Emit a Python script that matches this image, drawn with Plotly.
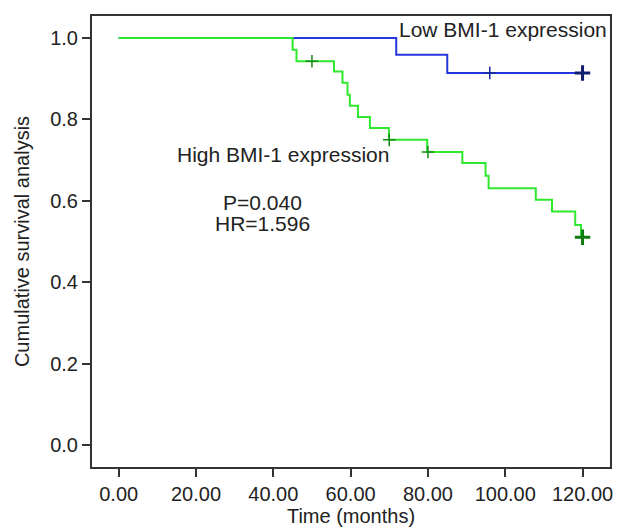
import plotly.graph_objects as go

# High BMI-1 expression group (green) step curve
high_t = [0, 45, 46, 55.7, 57.9, 59.2, 59.8, 61.9, 65.0, 69.9, 79.8, 88.9, 94.9, 95.7, 107.9, 112.1, 118.1, 119.6, 120]
high_s = [1.0, 0.971, 0.943, 0.918, 0.890, 0.861, 0.834, 0.806, 0.779, 0.750, 0.720, 0.693, 0.662, 0.631, 0.603, 0.574, 0.541, 0.511, 0.511]
high_cens_t = [50, 70, 80]
high_cens_s = [0.943, 0.750, 0.720]
high_end_t = [120]
high_end_s = [0.511]

# Low BMI-1 expression group (blue)
low_t = [0, 71.8, 85.0, 120]
low_s = [1.0, 0.959, 0.914, 0.914]
low_cens_t = [96]
low_cens_s = [0.914]
low_end_t = [120]
low_end_s = [0.914]

x_ticks = [0, 20, 40, 60, 80, 100, 120]
y_ticks = [0.0, 0.2, 0.4, 0.6, 0.8, 1.0]

BLUE = "#2436dc"
GREEN = "#2ee82e"
FONT = "Liberation Sans, Arial, Helvetica, sans-serif"

fig = go.Figure()
fig.add_trace(go.Scatter(x=low_t, y=low_s, mode="lines", line=dict(color=BLUE, width=2, shape="hv"), showlegend=False))
fig.add_trace(go.Scatter(x=high_t, y=high_s, mode="lines", line=dict(color=GREEN, width=2, shape="hv"), showlegend=False))
fig.add_trace(go.Scatter(x=low_cens_t, y=low_cens_s, mode="markers",
                         marker=dict(symbol="cross-thin", size=9, line=dict(color="#1a2a9a", width=1.5)), showlegend=False))
fig.add_trace(go.Scatter(x=low_end_t, y=low_end_s, mode="markers",
                         marker=dict(symbol="cross-thin", size=11, line=dict(color="#101c70", width=3)), showlegend=False))
fig.add_trace(go.Scatter(x=high_cens_t, y=high_cens_s, mode="markers",
                         marker=dict(symbol="cross-thin", size=9, line=dict(color="#148a14", width=1.5)), showlegend=False))
fig.add_trace(go.Scatter(x=high_end_t, y=high_end_s, mode="markers",
                         marker=dict(symbol="cross-thin", size=11, line=dict(color="#0f7a0f", width=3)), showlegend=False))

txt = dict(family=FONT, size=21, color="#222222")
fig.add_annotation(x=72, y=1.022, text="Low BMI-1 expression", showarrow=False, xanchor="left", yanchor="middle", font=txt)
fig.add_annotation(x=14.5, y=0.713, text="High BMI-1 expression", showarrow=False, xanchor="left", yanchor="middle", font=txt)
fig.add_annotation(x=37.3, y=0.597, text="P=0.040", showarrow=False, xanchor="center", yanchor="middle", font=txt)
fig.add_annotation(x=37.3, y=0.545, text="HR=1.596", showarrow=False, xanchor="center", yanchor="middle", font=txt)

axis_common = dict(showline=True, linewidth=2, linecolor="#333333", mirror=True, showgrid=False, zeroline=False,
                   ticks="outside", ticklen=8, tickwidth=2, tickcolor="#333333", automargin=False,
                   tickfont=dict(family=FONT, size=20, color="#222222"))

fig.update_xaxes(range=[-6.9, 127.1], tickvals=x_ticks, tickformat=".2f",
                 title=dict(text="Time (months)", font=dict(family=FONT, size=20, color="#222222"), standoff=2),
                 **axis_common)
fig.update_yaxes(range=[-0.053, 1.054], tickvals=y_ticks, tickformat=".1f",
                 title=dict(text="Cumulative survival analysis", font=dict(family=FONT, size=20, color="#222222"), standoff=15),
                 **axis_common)

fig.update_layout(width=622, height=528, margin=dict(l=92, r=12, t=16, b=61, autoexpand=False),
                  plot_bgcolor="white", paper_bgcolor="white", font=dict(family=FONT))

fig.write_html("out.html", config={"displayModeBar": False},
               post_script="document.body.style.margin='0px';document.body.style.overflow='hidden';")
